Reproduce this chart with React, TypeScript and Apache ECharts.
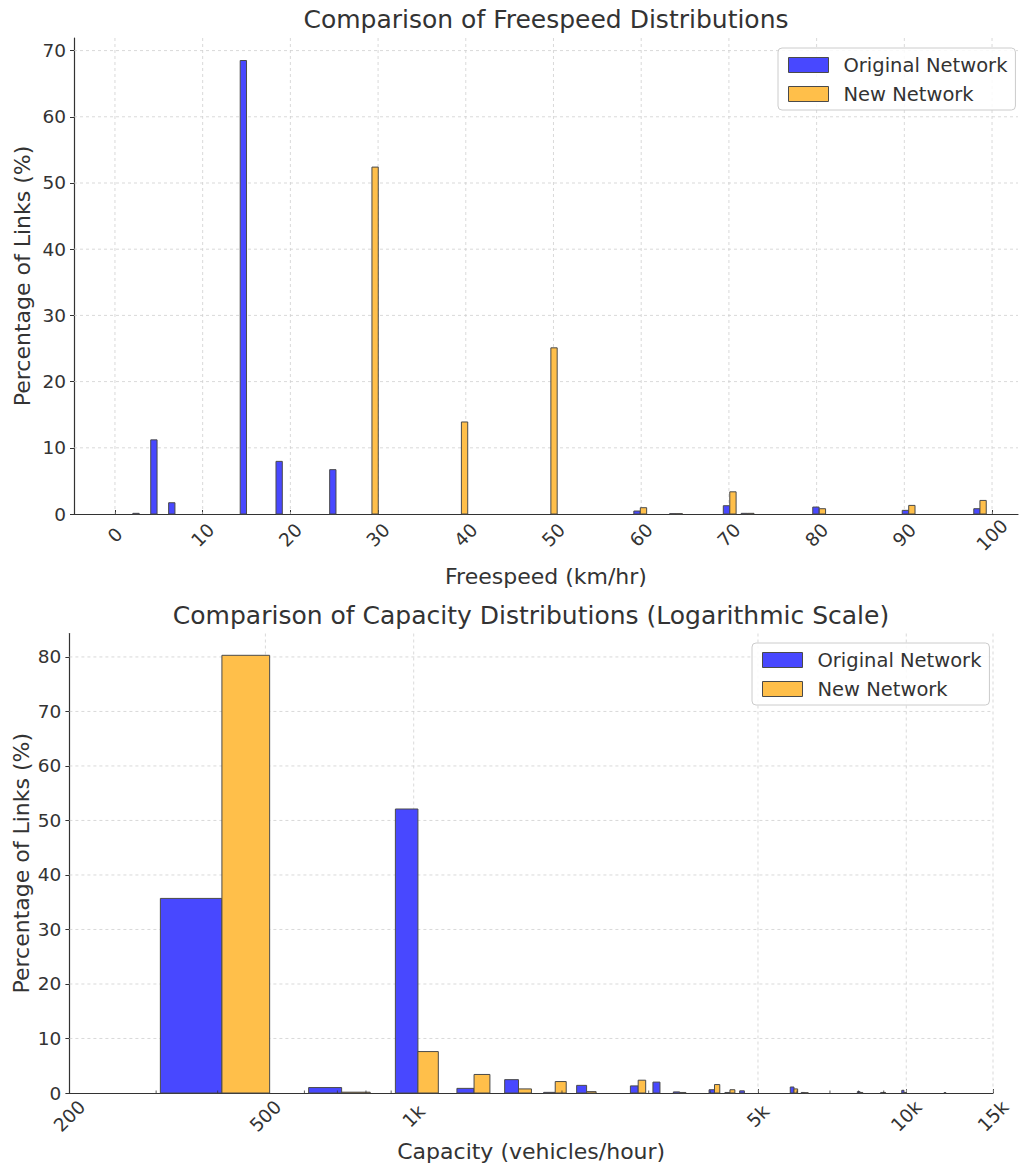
import React, { useEffect, useRef } from 'react';
import * as echarts from 'echarts';

// ---------- Top chart: freespeed (km/hr) ----------
const SPEED_TICKS = [0, 10, 20, 30, 40, 50, 60, 70, 80, 90, 100];
const SPEED_Y_TICKS = [0, 10, 20, 30, 40, 50, 60, 70];
// bar centres (km/hr) and percentages
const SPEED_ORIG_X = [2.4, 4.44, 6.48, 14.64, 18.72, 24.84, 59.52, 63.6, 69.72, 71.76, 79.92, 90.12, 98.28];
const SPEED_ORIG_Y = [0.1, 11.2, 1.7, 68.5, 7.95, 6.7, 0.45, 0.05, 1.25, 0.1, 1.05, 0.55, 0.8];
const SPEED_NEW_X = [29.66, 39.86, 50.06, 60.26, 64.34, 70.46, 72.5, 80.66, 90.86, 98.98];
const SPEED_NEW_Y = [52.4, 13.9, 25.1, 0.95, 0.05, 3.35, 0.1, 0.8, 1.3, 2.05];
const SPEED_BAR_W = 0.72;

// ---------- Bottom chart: capacity (vehicles/hour) ----------
const CAP_TICKS = [200, 500, 1000, 5000, 10000, 15000];
const CAP_TICK_LABELS = ['200', '500', '1k', '5k', '10k', '15k'];
const CAP_MINOR_TICKS = [300, 400, 600, 700, 800, 900, 2000, 3000, 4000, 6000, 7000, 8000, 9000];
const CAP_Y_TICKS = [0, 10, 20, 30, 40, 50, 60, 70, 80];
// bar left edges (vehicles/hour) and percentages
const CAP_ORIG_X = [306, 612, 918, 1224, 1530, 1836, 2142, 2754, 3060, 3366, 3978, 4284, 4590, 5814, 6120, 7956, 8874, 9792, 11934];
const CAP_ORIG_Y = [35.7, 1.0, 52.1, 0.85, 2.45, 0.12, 1.4, 1.3, 2.0, 0.2, 0.6, 0.1, 0.4, 1.1, 0.1, 0.25, 0.1, 0.5, 0.08];
const CAP_NEW_X = [408, 714, 1020, 1326, 1632, 1938, 2244, 2856, 3468, 4080, 4386, 5916, 6222, 8058, 8976, 9894];
const CAP_NEW_Y = [80.3, 0.15, 7.6, 3.4, 0.75, 2.1, 0.25, 2.35, 0.1, 1.55, 0.6, 0.75, 0.05, 0.1, 0.1, 0.1];
const CAP_BAR_W = 102;

const FONT = 'DejaVu Sans';
const TEXT = '#333333';
const AXIS = '#333333';
const GRID = '#cfcfcf';
const BLUE = '#4848FF';
const ORANGE = '#FFBF4A';
const EDGE = '#4a4a4a';
const L = Math.log10;

function barSeries(name: string, data: number[][], gi: number, fill: string) {
  return {
    type: 'custom',
    name,
    xAxisIndex: gi,
    yAxisIndex: gi,
    z: 3,
    itemStyle: { color: fill, borderColor: EDGE },
    encode: { x: [0, 1], y: 2 },
    data,
    renderItem: (params: any, api: any) => {
      const p0 = api.coord([api.value(0), 0]);
      const p1 = api.coord([api.value(1), api.value(2)]);
      return {
        type: 'rect',
        shape: { x: p0[0], y: p1[1], width: p1[0] - p0[0], height: p0[1] - p1[1] },
        style: { fill, stroke: EDGE, lineWidth: 1 },
      };
    },
  };
}

function vGrid(values: number[], gi: number) {
  return {
    type: 'custom', xAxisIndex: gi, yAxisIndex: gi, silent: true, z: 1,
    encode: { x: 0, y: 1 },
    data: values.map((v) => [v, 0]),
    renderItem: (params: any, api: any) => {
      const cs = params.coordSys;
      const p = api.coord([api.value(0), 0]);
      return {
        type: 'line',
        shape: { x1: p[0], y1: cs.y, x2: p[0], y2: cs.y + cs.height },
        style: { stroke: GRID, lineWidth: 0.8, lineDash: [3, 3] },
      };
    },
  };
}

function hGrid(values: number[], gi: number, xref: number) {
  return {
    type: 'custom', xAxisIndex: gi, yAxisIndex: gi, silent: true, z: 1,
    encode: { x: 0, y: 1 },
    data: values.map((v) => [xref, v]),
    renderItem: (params: any, api: any) => {
      const cs = params.coordSys;
      const p = api.coord([xref, api.value(1)]);
      return {
        type: 'line',
        shape: { x1: cs.x, y1: p[1], x2: cs.x + cs.width, y2: p[1] },
        style: { stroke: GRID, lineWidth: 0.8, lineDash: [3, 3] },
      };
    },
  };
}

function minorTicks(values: number[], gi: number) {
  return {
    type: 'custom', xAxisIndex: gi, yAxisIndex: gi, silent: true, z: 4,
    encode: { x: 0, y: 1 },
    data: values.map((v) => [v, 0]),
    renderItem: (params: any, api: any) => {
      const p = api.coord([api.value(0), 0]);
      return {
        type: 'line',
        shape: { x1: p[0], y1: p[1], x2: p[0], y2: p[1] - 2.5 },
        style: { stroke: AXIS, lineWidth: 0.8 },
      };
    },
  };
}

function legendOpt(left: number, top: number) {
  return {
    orient: 'vertical',
    left,
    top,
    selectedMode: false,
    itemWidth: 40,
    itemHeight: 15,
    itemGap: 9,
    padding: [7, 8, 6, 10],
    backgroundColor: 'rgba(255,255,255,0.85)',
    borderColor: '#cccccc',
    borderWidth: 1,
    borderRadius: 4,
    textStyle: { fontFamily: FONT, fontSize: 19.5, color: TEXT, padding: [0, 0, 0, 10] },
    data: [
      { name: 'Original Network', icon: 'rect', itemStyle: { color: BLUE, borderColor: EDGE, borderWidth: 1 } },
      { name: 'New Network', icon: 'rect', itemStyle: { color: ORANGE, borderColor: EDGE, borderWidth: 1 } },
    ],
  };
}

const labelStyle = { fontFamily: FONT, fontSize: 18.5, color: TEXT };
const nameStyle = { fontFamily: FONT, fontSize: 22, color: TEXT };

export default function App() {
  const ref = useRef<HTMLDivElement>(null);

  useEffect(() => {
    document.body.style.margin = '0';
    if (!ref.current) return;
    const chart = echarts.init(ref.current, undefined, { renderer: 'svg' });

    const speedOrig = SPEED_ORIG_X.map((x, i) => [x - SPEED_BAR_W / 2, x + SPEED_BAR_W / 2, SPEED_ORIG_Y[i]]);
    const speedNew = SPEED_NEW_X.map((x, i) => [x - SPEED_BAR_W / 2, x + SPEED_BAR_W / 2, SPEED_NEW_Y[i]]);
    const capOrig = CAP_ORIG_X.map((x, i) => [L(x), L(x + CAP_BAR_W), CAP_ORIG_Y[i]]);
    const capNew = CAP_NEW_X.map((x, i) => [L(x), L(x + CAP_BAR_W), CAP_NEW_Y[i]]);

    const capMin = L(200);
    const capMax = L(15000);
    const capTickLog = CAP_TICKS.map(L);

    const option: any = {
      animation: false,
      backgroundColor: '#ffffff',
      textStyle: { fontFamily: FONT },
      title: [
        {
          text: 'Comparison of Freespeed Distributions',
          left: 546, top: 7, textAlign: 'center', padding: 0,
          textStyle: { fontFamily: FONT, fontSize: 25, fontWeight: 'normal', color: TEXT },
        },
        {
          text: 'Comparison of Capacity Distributions (Logarithmic Scale)',
          left: 531, top: 603, textAlign: 'center', padding: 0,
          textStyle: { fontFamily: FONT, fontSize: 25, fontWeight: 'normal', color: TEXT },
        },
      ],
      legend: [legendOpt(778, 48), legendOpt(752, 643)],
      grid: [
        { left: 74, top: 38, width: 944, height: 476, outerBoundsMode: 'none', containLabel: false },
        { left: 69.4, top: 633.5, width: 923.6, height: 459.5, outerBoundsMode: 'none', containLabel: false },
      ],
      xAxis: [
        {
          gridIndex: 0, type: 'value', min: -4.67, max: 102.96,
          axisLine: { show: true, onZero: false, lineStyle: { color: AXIS, width: 1.2 } },
          axisTick: { show: true, inside: true, length: 4, customValues: SPEED_TICKS, lineStyle: { color: AXIS } },
          axisLabel: { ...labelStyle, customValues: SPEED_TICKS, rotate: 45, align: 'center', verticalAlign: 'middle', margin: 21 },
          splitLine: { show: false },
          name: 'Freespeed (km/hr)', nameLocation: 'middle', nameGap: 51, nameMoveOverlap: false,
          nameTextStyle: nameStyle,
        },
        {
          gridIndex: 1, type: 'value', min: capMin, max: capMax,
          axisLine: { show: true, onZero: false, lineStyle: { color: AXIS, width: 1.2 } },
          axisTick: { show: true, inside: true, length: 4, customValues: capTickLog, lineStyle: { color: AXIS } },
          axisLabel: {
            ...labelStyle, customValues: capTickLog, rotate: 45, align: 'center', verticalAlign: 'middle', margin: 23,
            formatter: (v: number) => {
              const i = capTickLog.findIndex((t) => Math.abs(t - v) < 1e-6);
              return i >= 0 ? CAP_TICK_LABELS[i] : '';
            },
          },
          splitLine: { show: false },
          name: 'Capacity (vehicles/hour)', nameLocation: 'middle', nameGap: 47, nameMoveOverlap: false,
          nameTextStyle: nameStyle,
        },
      ],
      yAxis: [
        {
          gridIndex: 0, type: 'value', min: 0, max: 71.9,
          axisLine: { show: true, onZero: false, lineStyle: { color: AXIS, width: 1.2 } },
          axisTick: { show: true, length: 4, customValues: SPEED_Y_TICKS, lineStyle: { color: AXIS } },
          axisLabel: { ...labelStyle, customValues: SPEED_Y_TICKS, margin: 8 },
          splitLine: { show: false },
          name: 'Percentage of Links (%)', nameLocation: 'middle', nameGap: 41, nameMoveOverlap: false,
          nameTextStyle: nameStyle,
        },
        {
          gridIndex: 1, type: 'value', min: 0, max: 84.3,
          axisLine: { show: true, onZero: false, lineStyle: { color: AXIS, width: 1.2 } },
          axisTick: { show: true, length: 4, customValues: CAP_Y_TICKS, lineStyle: { color: AXIS } },
          axisLabel: { ...labelStyle, customValues: CAP_Y_TICKS, margin: 8 },
          splitLine: { show: false },
          name: 'Percentage of Links (%)', nameLocation: 'middle', nameGap: 37, nameMoveOverlap: false,
          nameTextStyle: nameStyle,
        },
      ],
      series: [
        vGrid(SPEED_TICKS, 0),
        hGrid(SPEED_Y_TICKS.slice(1), 0, 0),
        barSeries('Original Network', speedOrig, 0, BLUE),
        barSeries('New Network', speedNew, 0, ORANGE),
        vGrid(capTickLog.slice(1), 1),
        hGrid(CAP_Y_TICKS.slice(1), 1, capMin + 0.01),
        barSeries('Original Network', capOrig, 1, BLUE),
        barSeries('New Network', capNew, 1, ORANGE),
        minorTicks(CAP_MINOR_TICKS.map(L), 1),
      ],
    };

    chart.setOption(option);
    return () => chart.dispose();
  }, []);

  return <div ref={ref} style={{ width: 1019, height: 1167 }} />;
}
